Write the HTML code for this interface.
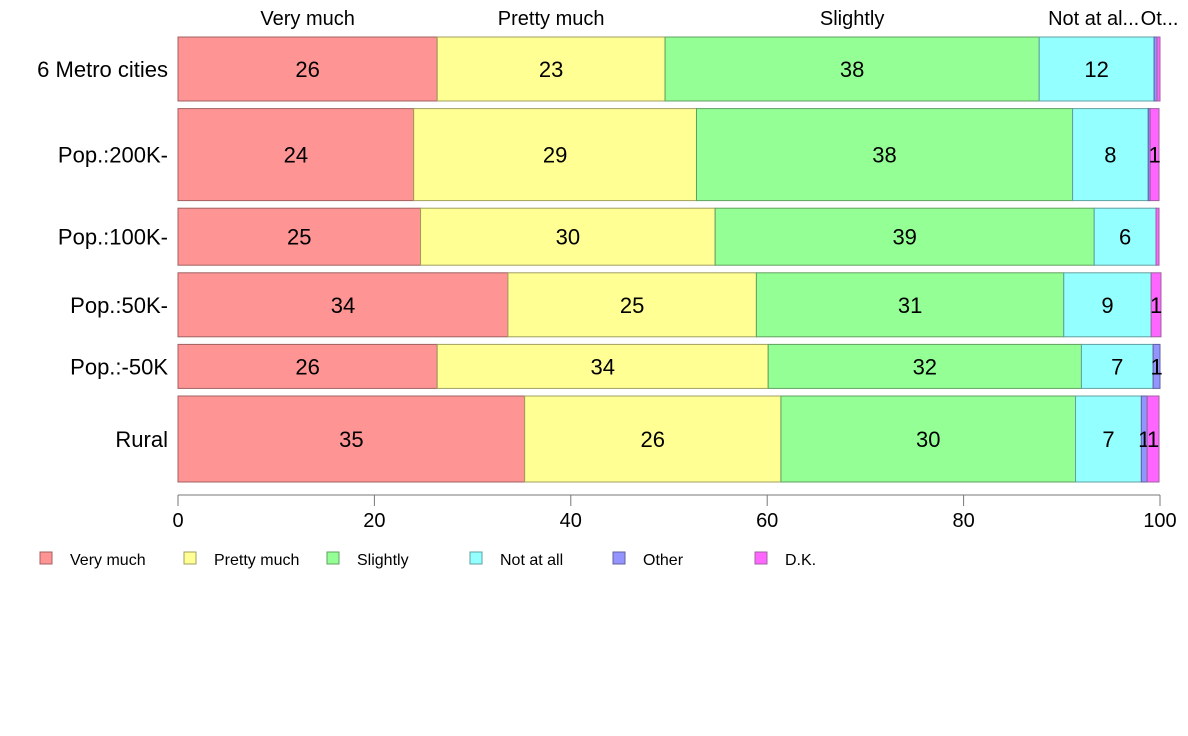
<!DOCTYPE html>
<html><head><meta charset="utf-8"><style>
body{margin:0;background:#fff;font-family:"Liberation Sans",Arial,sans-serif;}
svg{display:block}
</style></head><body>
<svg id="chart" width="1188" height="736" xmlns="http://www.w3.org/2000/svg"></svg>
<script>
const categories = ["6 Metro cities","Pop.:200K-","Pop.:100K-","Pop.:50K-","Pop.:-50K","Rural"];
const seriesNames = ["Very much","Pretty much","Slightly","Not at all","Other","D.K."];
const headerLabels = ["Very much","Pretty much","Slightly","Not at al...","Ot..."];
const veryMuch   = [26.4,24.0,24.7,33.6,26.4,35.3];
const prettyMuch = [23.2,28.8,30.0,25.3,33.7,26.1];
const slightly   = [38.1,38.3,38.6,31.3,31.9,30.0];
const notAtAll   = [11.7,7.7,6.3,8.9,7.3,6.7];
const other      = [0.3,0.2,0.0,0.0,0.7,0.6];
const dk         = [0.3,0.9,0.3,1.0,0.0,1.2];
const rowWeights = [64,92,57,64,44,86];
const xTicks = [0,20,40,60,80,100];

const fills = ["#FF9494","#FFFF94","#94FF94","#94FFFF","#9494FF","#FF66FF"];
const strokes = ["#a06060","#a0a060","#60a060","#60a0a0","#6060a0","#a060a0"];
const series = [veryMuch,prettyMuch,slightly,notAtAll,other,dk];
const NS="http://www.w3.org/2000/svg";
const svg=document.getElementById('chart');
const X0=178,X1=1160,Y0=37,Y1=482,GAP=7.6;
const x=v=>X0+(X1-X0)*v/100;
function mk(tag,attrs,parent){const e=document.createElementNS(NS,tag);for(const k in attrs)e.setAttribute(k,attrs[k]);(parent||svg).appendChild(e);return e;}
const totalW=rowWeights.reduce((a,b)=>a+b,0);
const avail=(Y1-Y0)-GAP*(categories.length-1);
let yy=Y0;
let firstRowCenters=[];
categories.forEach((c,i)=>{
  const h=avail*rowWeights[i]/totalW;
  const g=mk('g',{});
  
  
  let cum=0;
  series.forEach((s,j)=>{
    const v=s[i];
    const r=mk('rect',{x:x(cum),y:yy,width:Math.max(0,x(cum+v)-x(cum)),height:h,fill:fills[j],stroke:strokes[j],'stroke-width':1},g);
    
    
    const cx=(x(cum)+x(cum+v))/2;
    if(i===0) firstRowCenters.push(cx);
    if(v>=0.5){
      const t=mk('text',{x:cx,y:yy+h/2+8,'text-anchor':'middle','font-size':22,fill:'#000'},g);
      t.textContent=Math.round(v);
      
      
    }
    cum+=v;
  });
  const lab=mk('text',{x:168,y:yy+h/2+8,'text-anchor':'end','font-size':22,fill:'#000'});
  lab.textContent=c;
  
  
  yy+=h+GAP;
});
headerLabels.forEach((t,j)=>{
  const e=mk('text',{x:firstRowCenters[j]+(j===3?-3:0)+(j===4?4:0),y:25,'text-anchor':'middle','font-size':20,fill:'#000'});
  e.textContent=t;
  
  
});
const ax=mk('line',{x1:X0,x2:X1,y1:495,y2:495,stroke:'#777','stroke-width':1});


xTicks.forEach(t=>{
  const l=mk('line',{x1:x(t),x2:x(t),y1:495,y2:506,stroke:'#777'});
  
  
  const tx=mk('text',{x:x(t),y:527,'text-anchor':'middle','font-size':20,fill:'#000'});
  tx.textContent=t;
  
  
});
const legX=[40,184,327,470,613,755];
seriesNames.forEach((n,j)=>{
  const g=mk('g',{});
  
  
  mk('rect',{x:legX[j],y:552,width:12,height:12,fill:fills[j],stroke:strokes[j]},g);
  const t=mk('text',{x:legX[j]+30,y:565,'font-size':16,fill:'#000'},g);
  t.textContent=n;
});
</script>
</body></html>
